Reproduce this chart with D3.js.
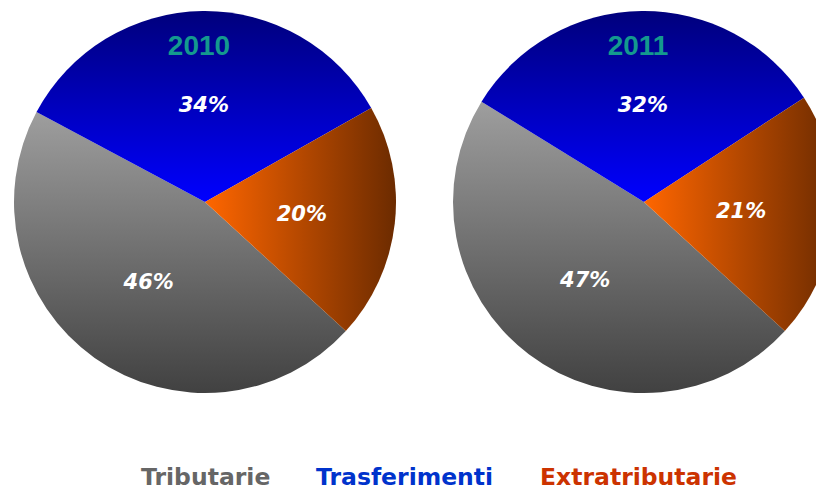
<!DOCTYPE html>
<html>
<head>
<meta charset="utf-8">
<script src="https://cdn.jsdelivr.net/npm/d3@7"></script>
<style>
  body { margin: 0; background: #fff; overflow: hidden; }
  svg { display: block; }
</style>
</head>
<body>
<div id="chart"></div>
<script>
var categories = ["Tributarie", "Trasferimenti", "Extratributarie"];
var years = ["2010", "2011"];
var values2010 = [46, 34, 20];
var values2011 = [47, 32, 21];
var legendColors = ["#666666", "#0033cc", "#cc3300"];

var width = 816, height = 491;
var radius = 191;
var centers = [[205, 202], [644, 202]];

var svg = d3.select("#chart").append("svg")
    .attr("width", width)
    .attr("height", height);

// gradients, one per category (bounding box of each slice)
var defs = svg.append("defs");
var grads = [
    { id: "g-trib", x2: 0, y2: 1, stops: ["#9e9e9e", "#414141"] },
    { id: "g-tras", x2: 0, y2: 1, stops: ["#00007c", "#0000ff"] },
    { id: "g-extr", x2: 1, y2: 0, stops: ["#ff6600", "#6c2b00"] }
];
grads.forEach(function (g) {
    var lg = defs.append("linearGradient")
        .attr("id", g.id)
        .attr("x1", 0).attr("y1", 0)
        .attr("x2", g.x2).attr("y2", g.y2);
    lg.append("stop").attr("offset", "0%").attr("stop-color", g.stops[0]);
    lg.append("stop").attr("offset", "100%").attr("stop-color", g.stops[1]);
});

var start = 132.5 * Math.PI / 180;
var pie = d3.pie()
    .sort(null)
    .startAngle(start)
    .endAngle(start + 2 * Math.PI);

var arc = d3.arc().innerRadius(0).outerRadius(radius);
var labelArc = d3.arc().innerRadius(radius * 0.51).outerRadius(radius * 0.51);

[values2010, values2011].forEach(function (vals, i) {
    var g = svg.append("g")
        .attr("transform", "translate(" + centers[i][0] + "," + centers[i][1] + ")");

    var arcs = pie(vals);

    g.selectAll("path")
        .data(arcs)
        .enter().append("path")
        .attr("d", arc)
        .attr("fill", function (d, j) { return "url(#" + grads[j].id + ")"; });

    g.selectAll("text.pct")
        .data(arcs)
        .enter().append("text")
        .attr("class", "pct")
        .attr("transform", function (d) { return "translate(" + labelArc.centroid(d) + ")"; })
        .attr("dy", "0.36em")
        .attr("text-anchor", "middle")
        .style("font-family", "'DejaVu Sans', Verdana, sans-serif")
        .style("font-weight", "bold")
        .style("font-style", "italic")
        .style("font-size", "21px")
        .attr("fill", "#fff")
        .text(function (d) { return d.data + "%"; });

    g.append("text")
        .attr("x", -6)
        .attr("y", 55 - centers[i][1])
        .attr("text-anchor", "middle")
        .style("font-family", "'Liberation Sans', Arial, sans-serif")
        .style("font-weight", "bold")
        .style("font-size", "28px")
        .attr("fill", "#14998e")
        .text(years[i]);
});

// legend
var legendX = [141, 316, 540];
svg.append("g").selectAll("text")
    .data(categories)
    .enter().append("text")
    .attr("x", function (d, i) { return legendX[i]; })
    .attr("y", 485)
    .style("font-family", "'DejaVu Sans', Verdana, sans-serif")
    .style("font-weight", "bold")
    .style("font-size", "23.5px")
    .attr("fill", function (d, i) { return legendColors[i]; })
    .text(function (d) { return d; });
</script>
</body>
</html>
